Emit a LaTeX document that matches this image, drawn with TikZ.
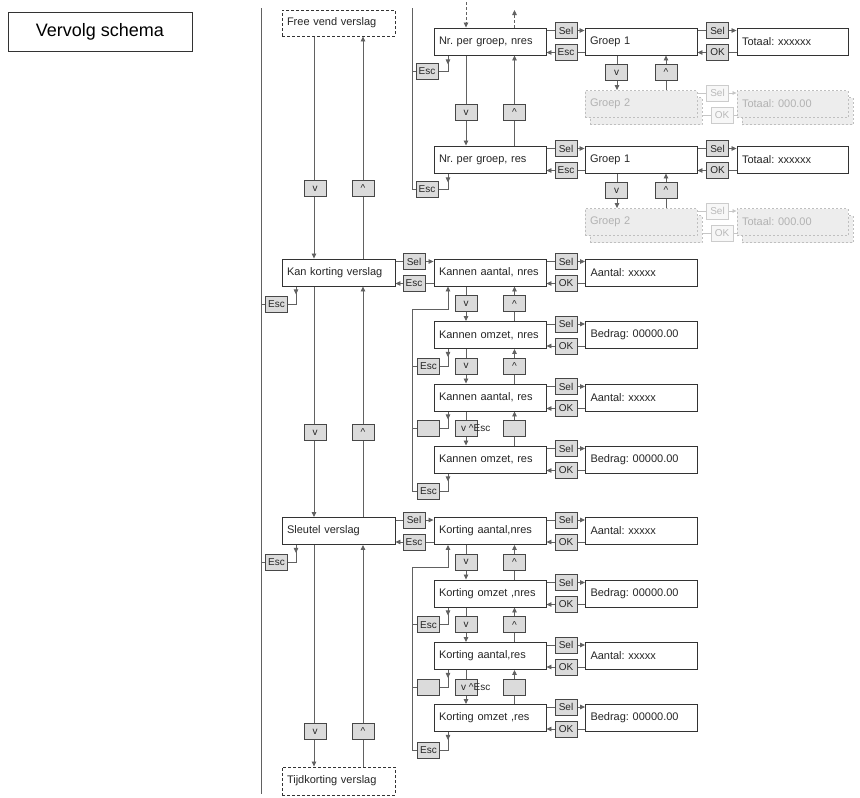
\documentclass[tikz,border=0pt]{standalone}
\usepackage{fontspec}
\setmainfont{Liberation Sans}
\usetikzlibrary{arrows.meta,backgrounds}
\frenchspacing

\definecolor{randkleur}{gray}{0.2}
\definecolor{lijnkleur}{gray}{0.38}
\definecolor{knopgrijs}{gray}{0.86}
\definecolor{spookgrijs}{gray}{0.93}

\tikzset{
  scherm/.style={draw=randkleur, line width=0.9pt, fill=white, text=black!85,
    minimum height=27pt, text width=102pt, inner xsep=5pt, inner ysep=0pt,
    align=left, font=\fontsize{11}{13}\selectfont},
  stippelscherm/.style={scherm, dash pattern=on 3pt off 2pt},
  knop/.style={draw=randkleur!90, line width=0.8pt, fill=knopgrijs, text=black!85,
    minimum width=22pt, minimum height=16pt, inner sep=0pt,
    font=\fontsize{10}{11}\selectfont},
  spook/.style={scherm, draw=gray!50, fill=spookgrijs, text=gray!60,
    line width=0.8pt, dash pattern=on 2pt off 2pt},
  spookknop/.style={knop, draw=gray!40, fill=gray!6, text=gray!55},
  lijn/.style={draw=lijnkleur, line width=0.8pt},
  pijl/.style={lijn, -{Triangle[length=5pt,width=4.5pt]}},
  spooklijn/.style={draw=gray!45, line width=0.7pt},
  spookpijl/.style={spooklijn, -{Triangle[length=4pt,width=3.5pt]}},
}

\begin{document}
\begin{tikzpicture}[x=1pt,y=-1pt]
\useasboundingbox (0,0) rectangle (860,798);

\node[draw=randkleur, line width=1pt, minimum width=184pt, minimum height=39pt,
  font=\fontsize{18}{20}\selectfont] (titel) at (100,31.5) {Vervolg schema};

% kolommen voor de verbindingslijnen
\coordinate (kolHoofd) at (261,0);
\coordinate (kolAesc) at (296,0);
\coordinate (kolAneer) at (314,0);
\coordinate (kolAop) at (363,0);
\coordinate (kolTerug) at (412,0);
\coordinate (kolEsc) at (448,0);
\coordinate (kolNeer) at (466,0);
\coordinate (kolOp) at (514.5,0);
\coordinate (kolGneer) at (617,0);
\coordinate (kolGop) at (666,0);
\coordinate (hoofdBoven) at (261,8);
\coordinate (hoofdOnder) at (261,794);
\coordinate (terugBoven) at (412,8);
\coordinate (inBoven) at (466,2);
\coordinate (uitBoven) at (514.5,10);

% hoofdkolom
\node[stippelscherm, text width=103pt, minimum height=26pt] (vrij) at (338.5,23) {Free vend verslag};
\node[stippelscherm, text width=103pt, minimum height=28pt] (tijd) at (338.5,781) {Tijdkorting verslag};

% kan korting en sleutel
\foreach \naam/\yy/\titel/\regA/\regB/\regC/\regD in {
  kan/272.5/{Kan korting verslag}/{Kannen aantal, nres}/{Kannen omzet, nres}/{Kannen aantal, res}/{Kannen omzet, res},
  sleutel/531/{Sleutel verslag}/{Korting aantal,nres}/{Korting omzet ,nres}/{Korting aantal,res}/{Korting omzet ,res}}
{
  \node[scherm, text width=103pt] (\naam) at (338.5,\yy) {\titel};
  \node[scherm] (\naam-r1) at (490,\yy) {\regA};
  \node[scherm] (\naam-r2) at (490,\yy+62.5) {\regB};
  \node[scherm] (\naam-r3) at (490,\yy+125) {\regC};
  \node[scherm] (\naam-r4) at (490,\yy+187) {\regD};
  \node[scherm] (\naam-u1) at (641.5,\yy) {Aantal: xxxxx};
  \node[scherm] (\naam-u2) at (641.5,\yy+62.5) {Bedrag: 00000.00};
  \node[scherm] (\naam-u3) at (641.5,\yy+125) {Aantal: xxxxx};
  \node[scherm] (\naam-u4) at (641.5,\yy+187) {Bedrag: 00000.00};

  \node[knop] (\naam-escL) at (276.5,\yy+31.5) {Esc};
  \node[knop] (\naam-sel) at (414,\yy-11) {Sel};
  \node[knop] (\naam-esc) at (414,\yy+11) {Esc};
  \node[knop] (\naam-v1) at (466,\yy+31.25) {v};
  \node[knop] (\naam-h1) at (514.5,\yy+31.25) {\textasciicircum};
  \node[knop] (\naam-esc2) at (428.5,\yy+93.75) {Esc};
  \node[knop] (\naam-v2) at (466,\yy+93.75) {v};
  \node[knop] (\naam-h2) at (514.5,\yy+93.75) {\textasciicircum};
  \node[knop] (\naam-esc3) at (428.5,\yy+156) {};
  \node[knop] (\naam-v3) at (466,\yy+156) {};
  \node[knop] (\naam-h3) at (514.5,\yy+156) {};
  \node[anchor=west, inner sep=0pt, text=black!85, font=\fontsize{10}{11}\selectfont]
    (\naam-los) at (461,\yy+156) {v \textasciicircum Esc};
  \node[knop] (\naam-esc4) at (428.5,\yy+219) {Esc};
  \coordinate (\naam-terug) at (412,\yy+36.5);

  \begin{pgfonlayer}{background}
    \draw[pijl] (\naam.south -| kolAesc) -- ++(0,8);
    \draw[lijn] (\naam.south -| kolAesc) |- (\naam-escL.east);
    \draw[lijn] (\naam-escL.west) -- (\naam-escL.west -| kolHoofd);
    \draw[lijn] (\naam.east |- \naam-sel) -- (\naam-sel);
    \draw[pijl] (\naam-sel) -- (\naam-sel -| \naam-r1.west);
    \draw[lijn] (\naam-r1.west |- \naam-esc) -- (\naam-esc);
    \draw[pijl] (\naam-esc) -- (\naam-esc -| \naam.east);
    % bladeren met v en ^
    \draw[pijl] (\naam-r1.south -| kolNeer) -- (\naam-r2.north -| kolNeer);
    \draw[pijl] (\naam-r2.south -| kolNeer) -- (\naam-r3.north -| kolNeer);
    \draw[pijl] (\naam-r3.south -| kolNeer) -- (\naam-r4.north -| kolNeer);
    \draw[pijl] (\naam-r2.north -| kolOp) -- (\naam-r1.south -| kolOp);
    \draw[pijl] (\naam-r3.north -| kolOp) -- (\naam-r2.south -| kolOp);
    \draw[pijl] (\naam-r4.north -| kolOp) -- (\naam-r3.south -| kolOp);
    % Esc terug naar de eerste regel
    \draw[pijl] (\naam-terug) -| (\naam-r1.south -| kolEsc);
    \draw[lijn] (\naam-terug) -- (\naam-esc4.west -| kolTerug);
    \draw[pijl] (\naam-r2.south -| kolEsc) -- ++(0,8);
    \draw[lijn] (\naam-r2.south -| kolEsc) |- (\naam-esc2.east);
    \draw[lijn] (\naam-esc2.west) -- (\naam-esc2.west -| kolTerug);
    \draw[pijl] (\naam-r3.south -| kolEsc) -- ++(0,8);
    \draw[lijn] (\naam-r3.south -| kolEsc) |- (\naam-esc3.east);
    \draw[lijn] (\naam-esc3.west) -- (\naam-esc3.west -| kolTerug);
    \draw[pijl] (\naam-r4.south -| kolEsc) -- ++(0,8);
    \draw[lijn] (\naam-r4.south -| kolEsc) |- (\naam-esc4.east);
    \draw[lijn] (\naam-esc4.west) -- (\naam-esc4.west -| kolTerug);
  \end{pgfonlayer}

  \foreach \k/\d in {1/0,2/62.5,3/125,4/187} {
    \node[knop] (\naam-sel\k) at (566,\yy+\d-11) {Sel};
    \node[knop] (\naam-ok\k) at (566,\yy+\d+11) {OK};
    \begin{pgfonlayer}{background}
      \draw[lijn] (\naam-r\k.east |- \naam-sel\k) -- (\naam-sel\k);
      \draw[pijl] (\naam-sel\k) -- (\naam-sel\k -| \naam-u\k.west);
      \draw[lijn] (\naam-u\k.west |- \naam-ok\k) -- (\naam-ok\k);
      \draw[pijl] (\naam-ok\k) -- (\naam-ok\k -| \naam-r\k.east);
    \end{pgfonlayer}
  }
}

% hoofdkolom: bladeren
\node[knop] (vHoofd1) at (315,188.5) {v};
\node[knop] (hHoofd1) at (363,188.5) {\textasciicircum};
\node[knop] (vHoofd2) at (315,432.5) {v};
\node[knop] (hHoofd2) at (363,432.5) {\textasciicircum};
\node[knop] (vHoofd3) at (315,731.5) {v};
\node[knop] (hHoofd3) at (363,731.5) {\textasciicircum};

% nr. per groep
\node[scherm] (nrN) at (490,41.5) {Nr. per groep, nres};
\node[scherm] (nrR) at (490,159.5) {Nr. per groep, res};
\node[knop] (nrV) at (466,112.5) {v};
\node[knop] (nrH) at (514.5,112.5) {\textasciicircum};

\foreach \rij/\dy/\nr in {A/0/nrN, B/118/nrR} {
  \node[scherm] (groep\rij) at (641,41.5+\dy) {Groep 1};
  \node[scherm, text width=101pt] (totaal\rij) at (792.5,41.5+\dy) {Totaal: xxxxxx};
  \node[spook] (schaduwG\rij) at (646,111+\dy) {};
  \node[spook] (groep2\rij) at (641,104+\dy) {Groep 2};
  \node[spook, text width=101pt] (schaduwT\rij) at (797.5,111+\dy) {};
  \node[spook, text width=101pt] (totaal2\rij) at (792.5,104+\dy) {Totaal: 000.00};
  \node[knop] (sel\rij) at (566,30.5+\dy) {Sel};
  \node[knop] (esc\rij) at (566,52.5+\dy) {Esc};
  \node[knop] (selT\rij) at (717.5,30.5+\dy) {Sel};
  \node[knop] (okT\rij) at (717.5,52.5+\dy) {OK};
  \node[knop] (v\rij) at (616.5,72.5+\dy) {v};
  \node[knop] (h\rij) at (666,72.5+\dy) {\textasciicircum};
  \node[spookknop] (spSel\rij) at (717.5,93+\dy) {Sel};
  \node[spookknop] (spOk\rij) at (722,115+\dy) {OK};
  \node[knop] (escL\rij) at (427,71.5+\dy) {Esc};
  \begin{pgfonlayer}{background}
    \draw[lijn] (\nr.east |- sel\rij) -- (sel\rij);
    \draw[pijl] (sel\rij) -- (sel\rij -| groep\rij.west);
    \draw[lijn] (groep\rij.west |- esc\rij) -- (esc\rij);
    \draw[pijl] (esc\rij) -- (esc\rij -| \nr.east);
    \draw[lijn] (groep\rij.east |- selT\rij) -- (selT\rij);
    \draw[pijl] (selT\rij) -- (selT\rij -| totaal\rij.west);
    \draw[lijn] (totaal\rij.west |- okT\rij) -- (okT\rij);
    \draw[pijl] (okT\rij) -- (okT\rij -| groep\rij.east);
    \draw[pijl] (groep\rij.south -| kolGneer) -- (groep2\rij.north -| kolGneer);
    \draw[pijl] (groep2\rij.north -| kolGop) -- (groep\rij.south -| kolGop);
    \draw[spooklijn] (groep2\rij.east |- spSel\rij) -- (spSel\rij);
    \draw[spookpijl] (spSel\rij) -- (spSel\rij -| totaal2\rij.west);
    \draw[spooklijn] (totaal2\rij.west |- spOk\rij) -- (spOk\rij);
    \draw[spookpijl] (spOk\rij) -- (spOk\rij -| groep2\rij.east);
    \draw[pijl] (\nr.south -| kolEsc) -- ++(0,9);
    \draw[lijn] (\nr.south -| kolEsc) |- (escL\rij.east);
    \draw[lijn] (escL\rij.west) -- (escL\rij.west -| kolTerug);
  \end{pgfonlayer}
}

\begin{pgfonlayer}{background}
  \draw[lijn] (hoofdBoven) -- (hoofdOnder);
  \draw[pijl] (vrij.south -| kolAneer) -- (kan.north -| kolAneer);
  \draw[pijl] (kan.north -| kolAop) -- (vrij.south -| kolAop);
  \draw[pijl] (kan.south -| kolAneer) -- (sleutel.north -| kolAneer);
  \draw[pijl] (sleutel.north -| kolAop) -- (kan.south -| kolAop);
  \draw[pijl] (sleutel.south -| kolAneer) -- (tijd.north -| kolAneer);
  \draw[pijl] (tijd.north -| kolAop) -- (sleutel.south -| kolAop);
  \draw[lijn] (terugBoven) -- (escLB.west -| kolTerug);
  \draw[pijl, dash pattern=on 3pt off 2pt] (inBoven) -- (nrN.north -| kolNeer);
  \draw[pijl, dash pattern=on 3pt off 2pt] (nrN.north -| kolOp) -- (uitBoven);
  \draw[pijl] (nrN.south -| kolNeer) -- (nrR.north -| kolNeer);
  \draw[pijl] (nrR.north -| kolOp) -- (nrN.south -| kolOp);
\end{pgfonlayer}
\end{tikzpicture}
\end{document}
